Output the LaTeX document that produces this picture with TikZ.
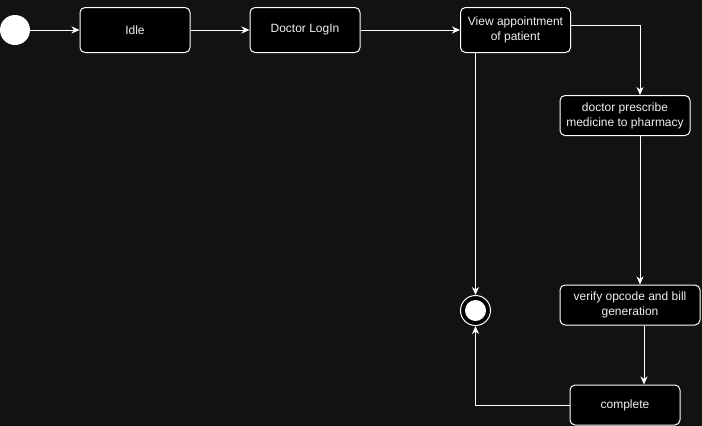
\documentclass[tikz,border=0pt]{standalone}
\usepackage{fontspec}
\setmainfont{Liberation Sans}
\usepackage{xcolor}
\usetikzlibrary{arrows.meta, positioning}
\definecolor{BgDark}{HTML}{121212}
\definecolor{TxtLight}{HTML}{F0F0F0}

\begin{document}
\begin{tikzpicture}[x=1pt, y=-1pt,
  st/.style={rectangle, rounded corners=5pt, draw=white, fill=black, line width=1pt,
    text=TxtLight, align=center, font=\fontsize{12}{15}\selectfont,
    minimum width=110pt, minimum height=40pt, inner sep=2pt},
  line/.style={white, line width=1pt, -{Stealth[length=8pt,width=7pt,inset=2.5pt]}}
]
\fill[BgDark] (0,0) rectangle (702,426);
\useasboundingbox (0,0) rectangle (702,426);
% start and end states
\node[circle, fill=white, minimum size=30pt, inner sep=0pt] (init) at (15,30) {};
\node[circle, draw=white, fill=black, line width=1pt, minimum size=30pt, inner sep=0pt] (fin) at (475.5,310.5) {};
\node[circle, fill=white, minimum size=21pt, inner sep=0pt] (finc) at (fin) {};
% states
\node[st, minimum height=45pt] (idle)  at (135,30)    {Idle};
\node[st, minimum height=45pt] (login) at (305,30)    {Doctor LogIn};
\node[st, minimum height=45pt] (view)  at (515.5,30)  {View appointment\\of patient};
\node[st, minimum width=130pt] (presc) at (625,115.5) {doctor prescribe\\medicine to pharmacy};
\node[st, minimum width=140pt] (verif) at (630,305)   {verify opcode and bill\\generation};
\node[st]                      (done)  at (625,405)   {complete};
% transitions
\draw[line] (init) -- (idle);
\draw[line] (idle) -- (login);
\draw[line] (login) -- (view);
\draw[line] ([yshift=5pt]view.east) -| ([xshift=15pt]presc.north);
\draw[line] ([xshift=15pt]presc.south) -- ([xshift=15pt]presc.south |- verif.north);
\draw[line] ([xshift=14pt]verif.south) -- ([xshift=14pt]verif.south |- done.north);
\draw[line] (done.west) -| (fin.south);
\draw[line] (view.south -| fin.north) -- (fin.north);
\end{tikzpicture}
\end{document}
